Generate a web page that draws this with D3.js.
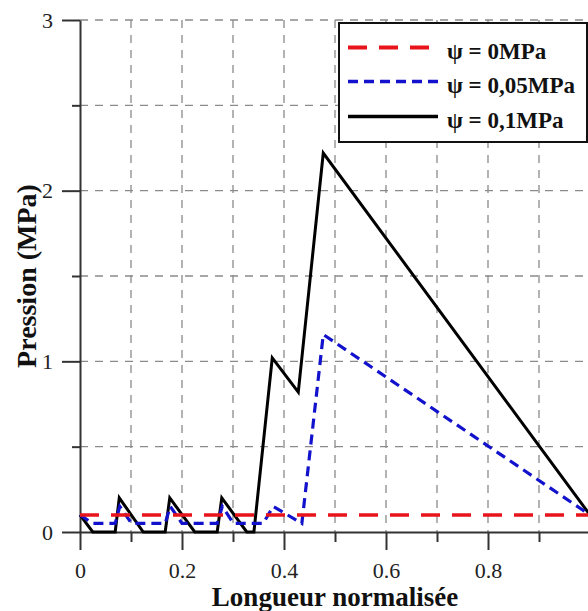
<!DOCTYPE html>
<html>
<head>
<meta charset="utf-8">
<script src="https://cdn.jsdelivr.net/npm/d3@7"></script>
<style>
  html, body { margin: 0; padding: 0; background: #fff; }
  svg { display: block; }
  text { font-family: "Liberation Serif", "Times New Roman", serif; }
</style>
</head>
<body>
<svg id="chart" width="588" height="611"></svg>
<script>
// ---- data ----
const xMajorTicks = [0, 0.2, 0.4, 0.6, 0.8];
const xMinorTicks = [0.1, 0.3, 0.5, 0.7, 0.9];
const yMajorTicks = [0, 1, 2, 3];
const yMinorTicks = [0.5, 1.5, 2.5];
const xGrid = [0.1, 0.2, 0.3, 0.4, 0.5, 0.6, 0.7, 0.8, 0.9];
const yGrid = [0.5, 1, 1.5, 2, 2.5, 3];

const seriesNames = ["ψ = 0MPa", "ψ = 0,05MPa", "ψ = 0,1MPa"];

const redX = [0, 1];
const redY = [0.1, 0.1];

const blueX = [0, 0.025, 0.069, 0.078, 0.101, 0.167, 0.177, 0.2, 0.269, 0.279, 0.301, 0.359, 0.379, 0.435, 0.477, 1];
const blueY = [0.1, 0.05, 0.05, 0.15, 0.05, 0.05, 0.15, 0.05, 0.05, 0.15, 0.05, 0.05, 0.15, 0.05, 1.157, 0.1];

const blackX = [0, 0.025, 0.069, 0.077, 0.124, 0.167, 0.176, 0.225, 0.269, 0.278, 0.327, 0.341, 0.377, 0.428, 0.477, 1];
const blackY = [0.1, 0, 0, 0.2, 0, 0, 0.2, 0, 0, 0.2, 0, 0, 1.02, 0.82, 2.22, 0.1];

// ---- layout ----
const svg = d3.select("#chart");
const mLeft = 80, mRight = 590, mTop = 20, mBottom = 532;
const x = d3.scaleLinear().domain([0, 1]).range([mLeft, mRight]);
const y = d3.scaleLinear().domain([0, 3]).range([mBottom, mTop]);

// grid
const grid = svg.append("g").attr("stroke", "#8a8a8a").attr("stroke-width", 1.3)
  .attr("stroke-dasharray", "8,7").attr("fill", "none");
grid.selectAll("line.v").data(xGrid).join("line").attr("class", "v")
  .attr("x1", d => x(d)).attr("x2", d => x(d))
  .attr("y1", y(3)).attr("y2", y(0));
grid.selectAll("line.h").data(yGrid).join("line").attr("class", "h")
  .attr("x1", x(0)).attr("x2", 588)
  .attr("y1", d => y(d)).attr("y2", d => y(d));

// axes
function styleAxis(g) {
  g.attr("font-family", '"Liberation Serif", serif');
  g.selectAll("path.domain").attr("stroke", "#333").attr("stroke-width", 2);
  g.selectAll(".tick line").attr("stroke", "#333").attr("stroke-width", 2);
  g.selectAll(".tick text").attr("fill", "#222")
    .style("font-family", '"Liberation Serif", serif').style("font-size", "22px");
}
const xAxisMajor = svg.append("g").attr("transform", `translate(0,${mBottom})`)
  .call(d3.axisBottom(x).tickValues(xMajorTicks).tickSize(18).tickSizeOuter(0)
    .tickPadding(12).tickFormat(d => d === 0 ? "0" : d3.format(".1f")(d)));
styleAxis(xAxisMajor);
const xAxisMinor = svg.append("g").attr("transform", `translate(0,${mBottom})`)
  .call(d3.axisBottom(x).tickValues(xMinorTicks).tickSize(10).tickSizeOuter(0).tickFormat(""));
styleAxis(xAxisMinor);
xAxisMinor.select("path.domain").remove();

const yAxisMajor = svg.append("g").attr("transform", `translate(${mLeft},0)`)
  .call(d3.axisLeft(y).tickValues(yMajorTicks).tickSize(18).tickSizeOuter(0)
    .tickPadding(9).tickFormat(d3.format("d")));
styleAxis(yAxisMajor);
const yAxisMinor = svg.append("g").attr("transform", `translate(${mLeft},0)`)
  .call(d3.axisLeft(y).tickValues(yMinorTicks).tickSize(8).tickSizeOuter(0).tickFormat(""));
styleAxis(yAxisMinor);
yAxisMinor.select("path.domain").remove();

// lines
const line = d3.line().x(d => x(d[0])).y(d => y(d[1]));
const series = [
  { name: seriesNames[0], xs: redX, ys: redY, color: "#e8141c", width: 3.5, dash: "19,12" },
  { name: seriesNames[1], xs: blueX, ys: blueY, color: "#1212cc", width: 3.2, dash: "10,6" },
  { name: seriesNames[2], xs: blackX, ys: blackY, color: "#000", width: 3, dash: null }
];
const drawOrder = [2, 1, 0];
drawOrder.forEach(i => {
  const s = series[i];
  svg.append("path")
    .datum(s.xs.map((v, k) => [v, s.ys[k]]))
    .attr("d", line)
    .attr("fill", "none")
    .attr("stroke", s.color)
    .attr("stroke-width", s.width)
    .attr("stroke-linejoin", "miter")
    .attr("stroke-dasharray", s.dash);
});

// legend
const lg = svg.append("g");
lg.append("rect").attr("x", 339).attr("y", 23).attr("width", 248).attr("height", 119)
  .attr("fill", "#fff").attr("stroke", "#111").attr("stroke-width", 2);
const rowY = [47.5, 81.5, 116.5];
series.forEach((s, i) => {
  lg.append("line").attr("x1", 348).attr("x2", 438)
    .attr("y1", rowY[i]).attr("y2", rowY[i])
    .attr("stroke", s.color).attr("stroke-width", s.width + 0.5)
    .attr("stroke-dasharray", s.dash);
  lg.append("text").attr("x", 447).attr("y", rowY[i] + 11)
    .attr("font-size", 23).attr("font-weight", "bold").attr("fill", "#111")
    .text(s.name);
});

// axis titles
svg.append("text").attr("x", (mLeft + mRight) / 2).attr("y", 606)
  .attr("text-anchor", "middle").attr("font-size", 27).attr("font-weight", "bold")
  .attr("fill", "#111").text("Longueur normalisée");
svg.append("text").attr("transform", `translate(36,${(mTop + mBottom) / 2}) rotate(-90)`)
  .attr("text-anchor", "middle").attr("font-size", 28).attr("font-weight", "bold")
  .attr("fill", "#111").text("Pression (MPa)");
</script>
</body>
</html>
